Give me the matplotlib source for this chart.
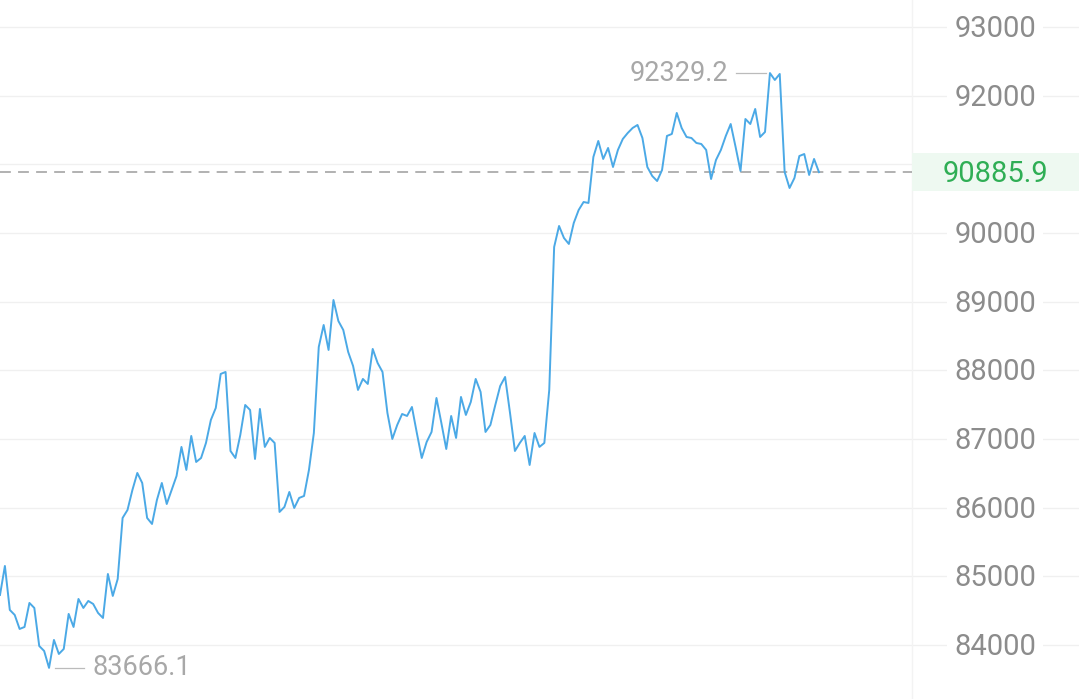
import matplotlib
matplotlib.use("Agg")
import matplotlib.pyplot as plt
import matplotlib.transforms as mtransforms

prices = [
    84728, 85151, 84510, 84437, 84233, 84262, 84612, 84539, 83985, 83913,
    83666.1, 84073, 83869, 83942, 84452, 84262, 84670, 84539, 84641, 84597,
    84466, 84393, 85034, 84714, 84961, 85850, 85966, 86257, 86505, 86359,
    85850, 85762, 86112, 86359, 86053, 86257, 86461, 86884, 86549, 87044,
    86665, 86723, 86942, 87277, 87452, 87947, 87976, 86825, 86723, 87058,
    87495, 87422, 86709, 87437, 86884, 87015, 86942, 85937, 86010, 86228,
    85995, 86141, 86170, 86549, 87087, 88340, 88660, 88296, 89024, 88718,
    88587, 88267, 88063, 87714, 87874, 87801, 88311, 88107, 87976, 87379,
    87000, 87204, 87364, 87335, 87466, 87087, 86723, 86956, 87102, 87597,
    87233, 86854, 87335, 87015, 87612, 87350, 87539, 87874, 87685, 87102,
    87204, 87495, 87772, 87903, 87379, 86825, 86942, 87044, 86621, 87087,
    86884, 86942, 87714, 89796, 90102, 89927, 89840, 90146, 90335, 90451,
    90437, 91107, 91340, 91078, 91238, 90961, 91209, 91369, 91456, 91529,
    91573, 91383, 90961, 90830, 90757, 90917, 91413, 91442, 91748, 91529,
    91398, 91383, 91311, 91296, 91209, 90786, 91063, 91209, 91413, 91587,
    91252, 90903, 91660, 91587, 91806, 91398, 91471, 92329.2, 92228, 92316,
    90888, 90655, 90801, 91121, 91150, 90845, 91078, 90885.9,
]
y_ticks = [84000, 85000, 86000, 87000, 88000, 89000, 90000, 91000, 92000, 93000]
y_tick_labels = ["84000", "85000", "86000", "87000", "88000", "89000", "90000", "91000", "92000", "93000"]
last_price = 90885.9
max_label = "92329.2"
min_label = "83666.1"

W, H = 1079, 699
fig = plt.figure(figsize=(W / 100, H / 100), dpi=100)
fig.patch.set_facecolor("white")
ax = fig.add_axes([0, 0, 1, 1])
ax.set_facecolor("white")
for s in ax.spines.values():
    s.set_visible(False)
ax.set_xticks([])
ax.set_yticks([])

step = 4.904  # px per sample
n = len(prices)
ax.set_xlim(0, W / step)
ax.set_ylim(83213, 93393)

plot_right = 912 / W
FONT = "Roboto"

# gridlines across the whole width
for v in y_ticks:
    ax.axhline(v, color="#f0f0f0", lw=1.0, zorder=0)
# vertical separator
ax.axvline(912 / step, color="#f3f3f3", lw=1.0, zorder=0)

# tick labels
blend = mtransforms.blended_transform_factory(ax.transAxes, ax.transData)
blend_txt = mtransforms.offset_copy(blend, fig=fig, x=0, y=-2, units="dots")
for v, lab in zip(y_ticks, y_tick_labels):
    if v == 91000:
        continue
    ax.text(995 / W, v, lab, transform=blend_txt, ha="center", va="center",
            fontsize=21, color="#8c8c8c", family=FONT, zorder=3,
            bbox=dict(boxstyle="square,pad=0.25", fc="white", ec="none"))

# price line
xs = list(range(n))
ax.plot(xs, prices, color="#4ba9e6", lw=1.4, zorder=4, solid_joinstyle="round")

# dashed last-price line
ax.plot([0, 912 / step], [last_price, last_price], color="#ababab", lw=1.3,
        dashes=(6, 4), zorder=2)
# green label with light green background
ax.add_patch(plt.Rectangle((plot_right, last_price - 275), 1 - plot_right, 550,
                           transform=blend, facecolor="#eef9f1", edgecolor="none", zorder=2))
ax.text(995 / W, last_price, f"{last_price}", transform=blend_txt, ha="center", va="center",
        fontsize=21, color="#2fae55", family=FONT, zorder=3)

# max annotation
imax = prices.index(max(prices))
ax.plot([imax - 34 / step, imax - 4 / step], [max(prices), max(prices)], color="#bbbbbb", lw=0.9, zorder=3)
ax.text(imax - 42 / step, max(prices), max_label, ha="right", va="center",
        fontsize=19.5, color="#a8a8a8", family=FONT, zorder=3)

# min annotation
imin = prices.index(min(prices))
ax.plot([imin + 6 / step, imin + 35 / step], [min(prices), min(prices)], color="#bbbbbb", lw=0.9, zorder=3)
ax.text(imin + 43 / step, min(prices), min_label, ha="left", va="center",
        fontsize=19.5, color="#a8a8a8", family=FONT, zorder=3)

fig.savefig("out.png", dpi=100, facecolor="white")
